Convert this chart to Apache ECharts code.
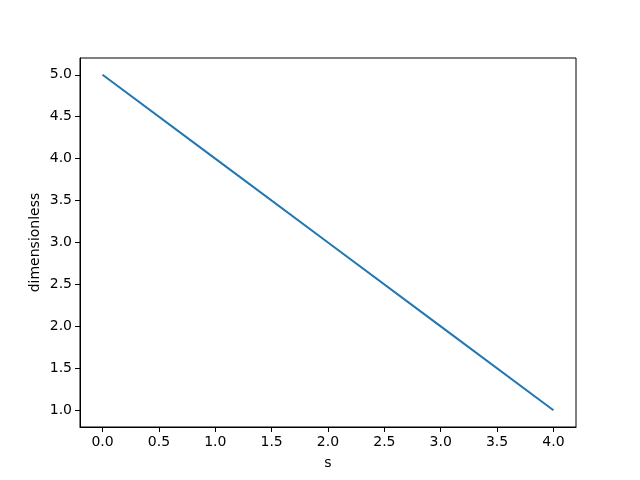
<!DOCTYPE html>
<html>
<head>
<meta charset="utf-8">
<script src="https://cdn.jsdelivr.net/npm/echarts@6/dist/echarts.min.js"></script>
<style>html,body{margin:0;padding:0;background:#fff}#c{width:640px;height:480px}</style>
</head>
<body>
<div id="c"></div>
<script>
const xValues = [0, 1, 2, 3, 4];
const yValues = [5, 4, 3, 2, 1];
const xTicks = [0, 0.5, 1, 1.5, 2, 2.5, 3, 3.5, 4];
const yTicks = [1, 1.5, 2, 2.5, 3, 3.5, 4, 4.5, 5];
const xLabel = 's';
const yLabel = 'dimensionless';

const chart = echarts.init(document.getElementById('c'), null, {renderer: 'canvas'});
const font = 'DejaVu Sans';
chart.setOption({
  animation: false,
  backgroundColor: '#fff',
  grid: {left: 80, right: 64, top: 58, bottom: 53, show: true, borderColor: '#000', borderWidth: 1, backgroundColor: 'transparent'},
  xAxis: {
    type: 'value', min: -0.2, max: 4.2,
    name: xLabel, nameLocation: 'middle', nameGap: 29, nameMoveOverlap: false,
    nameTextStyle: {fontFamily: font, fontSize: 14, color: '#000'},
    axisLine: {show: true, onZero: false, lineStyle: {color: '#000', width: 1}},
    axisTick: {show: true, length: 5, inside: false, lineStyle: {color: '#000'}, customValues: xTicks},
    axisLabel: {fontFamily: font, fontSize: 14, color: '#000', margin: 8, customValues: xTicks, formatter: v => v.toFixed(1)},
    splitLine: {show: false}
  },
  yAxis: {
    type: 'value', min: 0.8, max: 5.2,
    name: yLabel, nameLocation: 'middle', nameGap: 38, nameMoveOverlap: false,
    nameTextStyle: {fontFamily: font, fontSize: 14, color: '#000'},
    axisLine: {show: true, onZero: false, lineStyle: {color: '#000', width: 1}},
    axisTick: {show: true, length: 5, inside: false, lineStyle: {color: '#000'}, customValues: yTicks},
    axisLabel: {fontFamily: font, fontSize: 14, color: '#000', margin: 8, customValues: yTicks, formatter: v => v.toFixed(1)},
    splitLine: {show: false}
  },
  series: [{
    type: 'line',
    data: xValues.map((x, i) => [x, yValues[i]]),
    showSymbol: false,
    lineStyle: {color: '#1f77b4', width: 2},
    itemStyle: {color: '#1f77b4'}
  }]
});
</script>
</body>
</html>
